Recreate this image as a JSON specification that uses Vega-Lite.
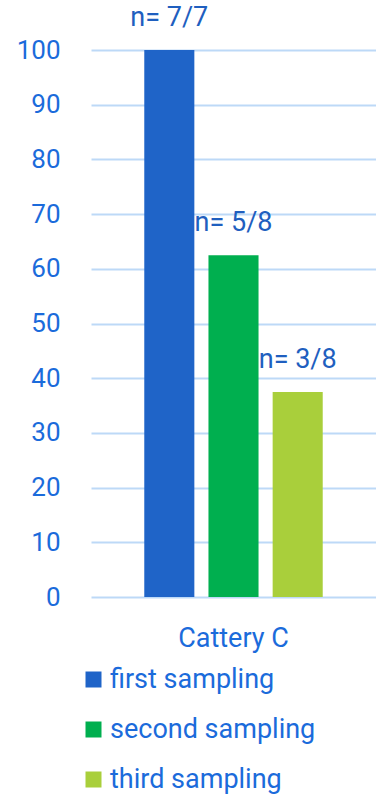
{
  "$schema": "https://vega.github.io/schema/vega-lite/v6.json",
  "autosize": "none",
  "padding": {"left": 91, "top": 50, "right": 0, "bottom": 199},
  "width": 285,
  "height": 547,
  "background": "white",
  "config": {
    "font": "Roboto",
    "view": {"stroke": null}
  },
  "data": {
    "values": [
      {"cattery": "Cattery C", "sampling": "first sampling", "percent": 100, "label": "n= 7/7"},
      {"cattery": "Cattery C", "sampling": "second sampling", "percent": 62.5, "label": "n= 5/8"},
      {"cattery": "Cattery C", "sampling": "third sampling", "percent": 37.5, "label": "n= 3/8"}
    ]
  },
  "encoding": {
    "x": {
      "field": "cattery",
      "type": "nominal",
      "scale": {"paddingInner": 0, "paddingOuter": 0.24},
      "axis": {
        "title": null,
        "labelAngle": 0,
        "labelFontSize": 27,
        "labelColor": "#1B6BDB",
        "labelPadding": 28,
        "ticks": false,
        "domain": false
      }
    },
    "xOffset": {
      "field": "sampling",
      "type": "nominal",
      "scale": {"paddingInner": 0.22, "paddingOuter": 0.11}
    },
    "y": {
      "field": "percent",
      "type": "quantitative",
      "scale": {"domain": [0, 100]},
      "axis": {
        "title": null,
        "values": [0, 10, 20, 30, 40, 50, 60, 70, 80, 90, 100],
        "labelFontSize": 26,
        "labelColor": "#1B6BDB",
        "labelPadding": 31,
        "ticks": false,
        "domain": false,
        "gridColor": "#BDD9F7",
        "gridWidth": 2,
        "grid": true
      }
    }
  },
  "layer": [
    {
      "mark": {"type": "bar"},
      "encoding": {
        "color": {
          "field": "sampling",
          "type": "nominal",
          "scale": {
            "domain": ["first sampling", "second sampling", "third sampling"],
            "range": ["#1F64C8", "#00AF4F", "#A9CF3B"]
          },
          "legend": {
            "title": null,
            "orient": "none",
            "legendX": -11,
            "legendY": 616,
            "direction": "vertical",
            "symbolType": "square",
            "symbolSize": 256,
            "symbolStrokeWidth": 0,
            "labelFontSize": 27,
            "labelColor": "#1B6BDB",
            "labelLimit": 0,
            "rowPadding": 22,
            "labelOffset": 3
          }
        }
      }
    },
    {
      "mark": {"type": "text", "baseline": "middle", "dy": -32, "fontSize": 27, "color": "#1F5FBF"},
      "encoding": {
        "text": {"field": "label"}
      }
    }
  ]
}
